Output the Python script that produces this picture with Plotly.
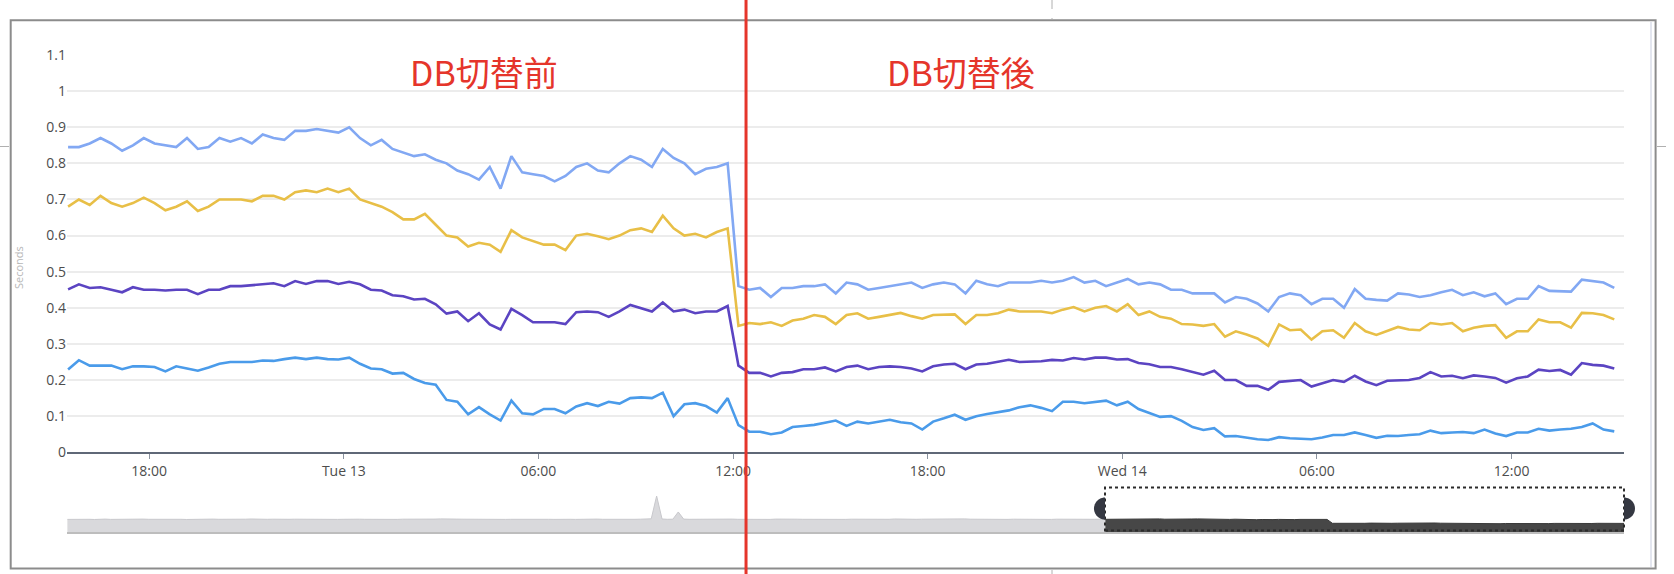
import numpy as np
import pandas as pd
import plotly.graph_objects as go

# ---------------- data ----------------
series_start = "2022-12-12 15:30"
series_step = "20min"

p_top = [0.845, 0.845, 0.855, 0.87, 0.855, 0.835, 0.85, 0.87, 0.855, 0.85,
         0.845, 0.87, 0.84, 0.845, 0.87, 0.86, 0.87, 0.855, 0.88, 0.87,
         0.865, 0.89, 0.89, 0.895, 0.89, 0.885, 0.9, 0.87, 0.85, 0.865,
         0.84, 0.83, 0.82, 0.825, 0.81, 0.80, 0.78, 0.77, 0.755, 0.79,
         0.73, 0.82, 0.775, 0.77, 0.765, 0.75, 0.765, 0.79, 0.80, 0.78,
         0.775, 0.80, 0.82, 0.81, 0.79, 0.84, 0.815, 0.80, 0.77, 0.785,
         0.79, 0.80, 0.46, 0.45, 0.455, 0.43, 0.455, 0.455, 0.46, 0.46,
         0.465, 0.44, 0.47, 0.465, 0.45, 0.455, 0.46, 0.465, 0.47, 0.455,
         0.465, 0.47, 0.465, 0.44, 0.475, 0.465, 0.46, 0.47, 0.47, 0.47,
         0.475, 0.47, 0.475, 0.485, 0.47, 0.475, 0.46, 0.47, 0.48, 0.465,
         0.47, 0.465, 0.45, 0.45, 0.44, 0.44, 0.44, 0.415, 0.43, 0.425,
         0.412, 0.39, 0.43, 0.44, 0.435, 0.41, 0.425, 0.425, 0.40, 0.452,
         0.425, 0.422, 0.42, 0.44, 0.437, 0.43, 0.435, 0.443, 0.45, 0.435,
         0.443, 0.432, 0.44, 0.41, 0.425, 0.425, 0.46, 0.447, 0.445, 0.445,
         0.478, 0.475, 0.47, 0.455]

p_yellow = [0.68, 0.70, 0.685, 0.71, 0.69, 0.68, 0.69, 0.705, 0.69, 0.67,
            0.68, 0.695, 0.668, 0.68, 0.70, 0.70, 0.70, 0.695, 0.71, 0.71,
            0.70, 0.72, 0.725, 0.72, 0.73, 0.72, 0.73, 0.70, 0.69, 0.68,
            0.665, 0.645, 0.645, 0.66, 0.63, 0.60, 0.595, 0.57, 0.58, 0.575,
            0.555, 0.615, 0.595, 0.585, 0.575, 0.575, 0.56, 0.60, 0.605, 0.598,
            0.59, 0.60, 0.615, 0.62, 0.61, 0.655, 0.62, 0.60, 0.605, 0.595,
            0.61, 0.62, 0.35, 0.358, 0.355, 0.36, 0.35, 0.365, 0.37, 0.38,
            0.375, 0.355, 0.38, 0.385, 0.37, 0.375, 0.38, 0.386, 0.377, 0.37,
            0.38, 0.38, 0.382, 0.355, 0.38, 0.38, 0.385, 0.395, 0.39, 0.39,
            0.39, 0.385, 0.395, 0.402, 0.39, 0.40, 0.405, 0.39, 0.41, 0.38,
            0.39, 0.375, 0.37, 0.355, 0.354, 0.35, 0.355, 0.32, 0.335, 0.326,
            0.315, 0.295, 0.354, 0.338, 0.34, 0.312, 0.335, 0.338, 0.317, 0.358,
            0.335, 0.325, 0.335, 0.347, 0.34, 0.338, 0.358, 0.354, 0.358, 0.335,
            0.345, 0.35, 0.352, 0.317, 0.335, 0.335, 0.368, 0.36, 0.36, 0.345,
            0.386, 0.385, 0.38, 0.368]

p_purple = [0.451, 0.465, 0.455, 0.457, 0.45, 0.443, 0.457, 0.45, 0.45, 0.448,
            0.45, 0.45, 0.438, 0.45, 0.45, 0.46, 0.46, 0.462, 0.464, 0.468,
            0.46, 0.474, 0.466, 0.474, 0.474, 0.466, 0.472, 0.465, 0.45, 0.448,
            0.435, 0.432, 0.423, 0.425, 0.41, 0.384, 0.39, 0.363, 0.385, 0.354,
            0.34, 0.397, 0.38, 0.36, 0.36, 0.36, 0.355, 0.388, 0.39, 0.388,
            0.375, 0.39, 0.408, 0.40, 0.39, 0.415, 0.39, 0.395, 0.385, 0.39,
            0.39, 0.405, 0.24, 0.22, 0.22, 0.21, 0.22, 0.222, 0.23, 0.23,
            0.235, 0.224, 0.236, 0.24, 0.23, 0.236, 0.238, 0.236, 0.232, 0.224,
            0.238, 0.243, 0.245, 0.23, 0.243, 0.245, 0.25, 0.256, 0.25, 0.25,
            0.252, 0.256, 0.254, 0.261, 0.257, 0.262, 0.262, 0.257, 0.258, 0.247,
            0.244, 0.236, 0.236, 0.23, 0.222, 0.215, 0.226, 0.2, 0.2, 0.184,
            0.184, 0.173, 0.195, 0.198, 0.2, 0.182, 0.192, 0.2, 0.195, 0.212,
            0.196, 0.186, 0.198, 0.2, 0.2, 0.206, 0.222, 0.21, 0.212, 0.205,
            0.213, 0.21, 0.206, 0.193, 0.205, 0.21, 0.229, 0.225, 0.228, 0.215,
            0.247, 0.242, 0.24, 0.232]

p_blue = [0.229, 0.255, 0.24, 0.24, 0.24, 0.23, 0.238, 0.238, 0.236, 0.224,
          0.238, 0.232, 0.226, 0.235, 0.245, 0.25, 0.25, 0.25, 0.254, 0.253,
          0.258, 0.262, 0.258, 0.262, 0.258, 0.257, 0.262, 0.245, 0.232, 0.23,
          0.218, 0.22, 0.203, 0.192, 0.187, 0.145, 0.14, 0.105, 0.125, 0.105,
          0.088, 0.143, 0.108, 0.105, 0.12, 0.12, 0.108, 0.127, 0.136, 0.128,
          0.14, 0.135, 0.15, 0.152, 0.15, 0.165, 0.10, 0.133, 0.136, 0.128,
          0.11, 0.15, 0.075, 0.057, 0.057, 0.05, 0.055, 0.07, 0.073, 0.076,
          0.082, 0.088, 0.073, 0.085, 0.08, 0.084, 0.09, 0.083, 0.08, 0.063,
          0.085, 0.094, 0.104, 0.09, 0.10, 0.106, 0.112, 0.116, 0.125, 0.13,
          0.123, 0.114, 0.14, 0.14, 0.136, 0.14, 0.143, 0.13, 0.14, 0.12,
          0.11, 0.098, 0.1, 0.087, 0.07, 0.062, 0.067, 0.044, 0.045, 0.04,
          0.036, 0.034, 0.042, 0.039, 0.038, 0.036, 0.041, 0.048, 0.048, 0.055,
          0.048, 0.04, 0.046, 0.045, 0.048, 0.05, 0.06, 0.053, 0.055, 0.056,
          0.053, 0.063, 0.052, 0.045, 0.055, 0.055, 0.065, 0.06, 0.063, 0.065,
          0.07, 0.08, 0.063, 0.058]

x_range = ["2022-12-12 15:28", "2022-12-14 15:28"]
tick_vals = ["2022-12-12 18:00", "2022-12-13 00:00", "2022-12-13 06:00",
             "2022-12-13 12:00", "2022-12-13 18:00", "2022-12-14 00:00",
             "2022-12-14 06:00", "2022-12-14 12:00"]
tick_text = ["18:00", "Tue 13", "06:00", "12:00", "18:00", "Wed 14", "06:00", "12:00"]
y_ticks = [0, 0.1, 0.2, 0.3, 0.4, 0.5, 0.6, 0.7, 0.8, 0.9, 1, 1.1]

switch_time = "2022-12-13 12:24"
label_before = "DB切替前"
label_after = "DB切替後"
y_title = "Seconds"

# navigator (overview) data
nav_range = ["2022-12-08 15:28", "2022-12-14 15:28"]
nav_step = "30min"
nav_light_start = "2022-12-08 15:30"
nav_light = [1.26, 1.28, 1.27, 1.30, 1.27, 1.25, 1.28, 1.29, 1.26, 1.27, 1.31, 1.28, 1.26, 1.27, 1.29, 1.27,
             1.28, 1.30, 1.27, 1.26, 1.28, 1.27, 1.25, 1.27, 1.28, 1.26, 1.27, 1.29, 1.27, 1.26, 1.28, 1.27,
             1.26, 1.28, 1.30, 1.27, 1.26, 1.27, 1.28, 1.26, 1.25, 1.27, 1.28, 1.27, 1.26, 1.29, 1.27, 1.26,
             1.27, 1.28, 1.26, 1.27, 1.25, 1.27, 1.28, 1.27, 1.26, 1.28, 1.27, 1.29, 1.27, 1.26, 1.28, 1.27,
             1.28, 1.30, 1.28, 1.27, 1.29, 1.31, 1.28, 1.27, 1.29, 1.28, 1.27, 1.26, 1.28, 1.27, 1.26, 1.28,
             1.27, 1.26, 1.27, 1.28, 1.27, 1.26, 1.27, 1.29, 1.28, 1.27, 1.26, 1.28, 1.27, 1.27, 1.26, 1.28,
             1.27, 1.28, 1.29, 1.27, 1.26, 1.28, 1.27, 1.29, 1.28, 1.27, 1.28, 1.30, 1.32, 3.60, 1.30, 1.27,
             1.28, 2.00, 1.29, 1.27, 1.28, 1.27, 1.26, 1.28, 1.30, 1.27, 1.28, 1.29, 1.27, 1.26, 1.28, 1.27,
             1.28, 1.27, 1.26, 1.29, 1.27, 1.28, 1.30, 1.28, 1.27, 1.26, 1.28, 1.27, 1.26, 1.27, 1.28, 1.27,
             1.26, 1.28, 1.27, 1.29, 1.28, 1.27, 1.26, 1.28, 1.27, 1.30, 1.28, 1.27, 1.26, 1.27, 1.28, 1.29,
             1.27, 1.28, 1.30, 1.28, 1.27, 1.29, 1.31, 1.28, 1.27, 1.28, 1.26, 1.27, 1.28, 1.27, 1.26, 1.28,
             1.27, 1.26, 1.28, 1.27, 1.29, 1.27, 1.26, 1.28, 1.27, 1.26, 1.27, 1.28, 1.27, 1.26, 1.27, 1.28,
             1.27]
nav_dark_start = "2022-12-12 15:30"
nav_dark = [1.27, 1.28, 1.26, 1.29, 1.27, 1.28, 1.30, 1.27, 1.28, 1.29,
            1.31, 1.28, 1.27, 1.29, 1.30, 1.28, 1.30, 1.31, 1.29, 1.30,
            1.28, 1.29, 1.27, 1.26, 1.28, 1.25, 1.24, 1.26, 1.23, 1.25,
            1.22, 1.24, 1.26, 1.23, 1.25, 1.24, 1.26, 1.27, 1.25, 1.26,
            1.27, 1.26,
            0.87, 0.86, 0.88, 0.87, 0.86, 0.88, 0.87, 0.89, 0.87, 0.86,
            0.88, 0.87, 0.88, 0.89, 0.87, 0.88, 0.87, 0.89, 0.88, 0.90,
            0.88, 0.87, 0.89, 0.88, 0.87, 0.86, 0.85, 0.86, 0.84, 0.85,
            0.84, 0.83, 0.85, 0.84, 0.83, 0.85, 0.84, 0.86, 0.84, 0.85,
            0.84, 0.86, 0.85, 0.84, 0.86, 0.85, 0.87, 0.86, 0.85, 0.87,
            0.88, 0.87, 0.88, 0.87, 0.86]
nav_selection = ["2022-12-12 15:28", "2022-12-14 15:28"]

# ---------------- figure ----------------
W, H = 1674, 574
ML, MR, MT, MB = 67, 50, 55, 42
PW, PH = W - ML - MR, H - MT - MB


def px(X):
    return (X - ML) / PW


def py(Y):
    return (H - MB - Y) / PH


times = pd.date_range(series_start, periods=len(p_top), freq=series_step)
colors = {"top": "#82a8f3", "yellow": "#e8bf47", "purple": "#5b44c2", "blue": "#4a9bea"}

fig = go.Figure()
for name, vals in [("top", p_top), ("yellow", p_yellow), ("purple", p_purple), ("blue", p_blue)]:
    fig.add_trace(go.Scatter(x=times, y=vals, mode="lines", name=name,
                             line=dict(color=colors[name], width=2.6),
                             xaxis="x", yaxis="y", showlegend=False))

nav_light_t = pd.date_range(nav_light_start, periods=len(nav_light), freq=nav_step)
nav_dark_t = pd.date_range(nav_dark_start, periods=len(nav_dark), freq=nav_step)
fig.add_trace(go.Scatter(x=nav_light_t, y=nav_light, mode="lines", fill="tozeroy",
                         line=dict(color="#c8c8cc", width=1), fillcolor="#d9d9dc",
                         xaxis="x2", yaxis="y2", showlegend=False, hoverinfo="skip"))
fig.add_trace(go.Scatter(x=nav_dark_t, y=nav_dark, mode="lines", fill="tozeroy",
                         line=dict(color="#3a3a3a", width=1), fillcolor="#474747",
                         xaxis="x2", yaxis="y2", showlegend=False, hoverinfo="skip"))

font_ui = "Open Sans, Noto Sans, sans-serif"
red = "#e5352b"

# paper-x position of navigator selection edges (through the navigator scale)
nav_t0, nav_t1 = pd.Timestamp(nav_range[0]), pd.Timestamp(nav_range[1])
sel_fr = [(pd.Timestamp(t) - nav_t0) / (nav_t1 - nav_t0) for t in nav_selection]


def half_disc(cx, cy, r_px, side):
    a = np.linspace(np.pi / 2, 3 * np.pi / 2, 25) if side < 0 else np.linspace(-np.pi / 2, np.pi / 2, 25)
    xs = cx + r_px * np.cos(a) / PW
    ys = cy + r_px * np.sin(a) / PH
    return "M " + " L ".join(f"{x:.5f},{y:.5f}" for x, y in zip(xs, ys)) + " Z"


handle_y = py(508.5)
shapes = [
    # outer frame
    dict(type="rect", xref="paper", yref="paper", x0=px(10.7), x1=px(1655.6),
         y0=py(568.5), y1=py(20.3), line=dict(color="#8c8c8c", width=2), layer="below"),
    dict(type="line", xref="paper", yref="paper", x0=px(1651), x1=px(1651),
         y0=py(567), y1=py(22), line=dict(color="#e3e6ef", width=2)),
    # dashed marks outside frame
    dict(type="line", xref="paper", yref="paper", x0=px(1052), x1=px(1052),
         y0=py(0), y1=py(19), line=dict(color="#b0b0b0", width=1, dash="dash")),
    dict(type="line", xref="paper", yref="paper", x0=px(1052), x1=px(1052),
         y0=py(570), y1=py(574), line=dict(color="#b0b0b0", width=1)),
    dict(type="line", xref="paper", yref="paper", x0=px(0), x1=px(10),
         y0=py(146.5), y1=py(146.5), line=dict(color="#b0b0b0", width=1, dash="dash")),
    dict(type="line", xref="paper", yref="paper", x0=px(1657), x1=px(1674),
         y0=py(146.5), y1=py(146.5), line=dict(color="#b0b0b0", width=1, dash="dash")),
    # navigator selection box
    dict(type="rect", xref="paper", yref="paper", x0=sel_fr[0], x1=sel_fr[1],
         y0=py(530.5), y1=py(487.5), line=dict(color="#2b2b2b", width=2, dash="dot")),
    dict(type="path", xref="paper", yref="paper", path=half_disc(sel_fr[0], handle_y, 11, -1),
         fillcolor="#353842", line=dict(width=0)),
    dict(type="path", xref="paper", yref="paper", path=half_disc(sel_fr[1], handle_y, 11, 1),
         fillcolor="#353842", line=dict(width=0)),
    # switch line
    dict(type="line", xref="x", yref="paper", x0=switch_time, x1=switch_time,
         y0=py(575), y1=py(-1), line=dict(color=red, width=3)),
]

annotations = [
    dict(text=label_before, xref="paper", yref="paper", x=px(483.5), y=py(71),
         xanchor="center", yanchor="middle", showarrow=False,
         font=dict(family="Noto Sans CJK JP", size=34, color=red)),
    dict(text=label_after, xref="paper", yref="paper", x=px(961), y=py(71),
         xanchor="center", yanchor="middle", showarrow=False,
         font=dict(family="Noto Sans CJK JP", size=34, color=red)),
    dict(text=y_title, xref="paper", yref="paper", x=px(18), y=py(268),
         xanchor="center", yanchor="middle", showarrow=False, textangle=-90,
         font=dict(family=font_ui, size=11, color="#b7b7b7")),
]

fig.update_layout(
    width=W, height=H,
    margin=dict(l=ML, r=MR, t=MT, b=MB, pad=0),
    paper_bgcolor="white", plot_bgcolor="white",
    showlegend=False,
    font=dict(family=font_ui, size=14, color="#4d4d4d"),
    xaxis=dict(domain=[0, 1], anchor="y", range=x_range, type="date",
               tickvals=tick_vals, ticktext=tick_text, showgrid=False,
               showline=True, linecolor="#5f6877", linewidth=1.5,
               ticks="outside", ticklen=5, tickcolor="#8a929e", tickwidth=1,
               tickfont=dict(size=14, color="#4d4d4d"), zeroline=False),
    yaxis=dict(domain=[py(452.3), 1], anchor="x", range=[0, 1.1],
               tickvals=y_ticks, ticktext=[f"{v:g}" for v in y_ticks],
               showgrid=True, gridcolor="#ececec", gridwidth=1.5,
               zeroline=False, showline=False, ticks="",
               tickfont=dict(size=14, color="#4d4d4d")),
    xaxis2=dict(domain=[0, 1], anchor="y2", range=nav_range, type="date",
                showgrid=False, showticklabels=False, ticks="",
                showline=True, linecolor="#bdbdbd", linewidth=2, zeroline=False),
    yaxis2=dict(domain=[0, py(487.3)], anchor="x2", range=[0, (532 - 487.3) / 10],
                visible=False, fixedrange=True),
    shapes=shapes,
    annotations=annotations,
)

fig.write_html("out.html", config={"displayModeBar": False},
               post_script="document.body.style.margin='0';")
